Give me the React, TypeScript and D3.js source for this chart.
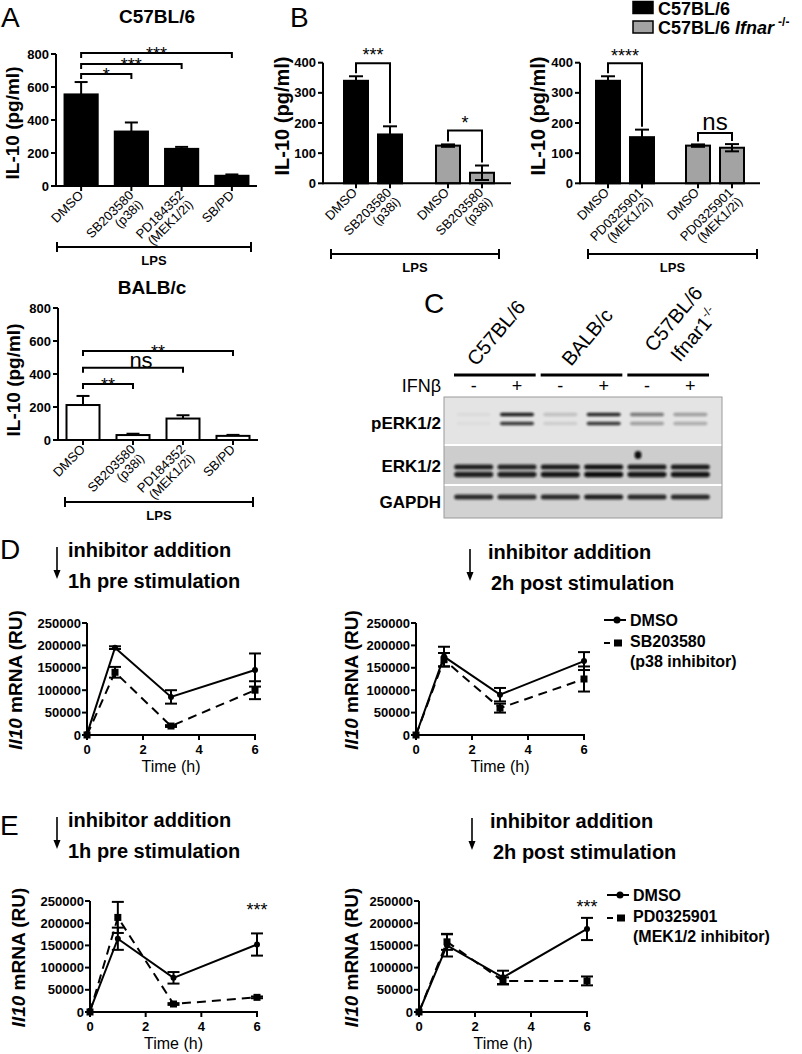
import React from "react";
import * as d3 from "d3";

const FONT = "'Liberation Sans', Arial, Helvetica, sans-serif";

// ---------- Panel A data ----------
const A_CATS = ["DMSO", "SB203580|(p38i)", "PD184352|(MEK1/2i)", "SB/PD"];
const A_C57_MEAN = [555, 330, 225, 62];
const A_C57_ERR = [75, 55, 12, 8];
const A_BALB_MEAN = [212, 30, 130, 25];
const A_BALB_ERR = [55, 8, 20, 6];
const A_TICKS = [0, 200, 400, 600, 800];
const A_C57_SIG: [number, number, number, string][] = [[0, 3, 806, "***"], [0, 2, 739, "***"], [0, 1, 679, "*"]];
const A_BALB_SIG: [number, number, number, string][] = [[0, 3, 539, "**"], [0, 2, 438, "ns"], [0, 1, 339, "**"]];

// ---------- Panel B data ----------
const B_SB_CATS = ["DMSO", "SB203580|(p38i)", "DMSO", "SB203580|(p38i)"];
const B_PD_CATS = ["DMSO", "PD0325901|(MEK1/2i)", "DMSO", "PD0325901|(MEK1/2i)"];
const B_GROUPS = [0, 0, 1, 1];
const B_SB_MEAN = [340, 162, 125, 35];
const B_SB_ERR = [15, 27, 4, 24];
const B_PD_MEAN = [340, 153, 125, 118];
const B_PD_ERR = [15, 25, 4, 12];
const B_TICKS = [0, 100, 200, 300, 400];
const B_SB_SIG: [number, number, number, string][] = [[0, 1, 398, "***"], [2, 3, 175, "*"]];
const B_PD_SIG: [number, number, number, string][] = [[0, 1, 398, "****"], [2, 3, 167, "ns"]];
const B_LEGEND = ["C57BL/6", "C57BL/6 Ifnar"];

// ---------- Panel C data ----------
const BLOT_LANES = ["-", "+", "-", "+", "-", "+"];
const BLOT_STRAINS = ["C57BL/6", "BALB/c", "C57BL/6|Ifnar1"];
const PERK_UP = [0.04, 0.92, 0.16, 0.88, 0.5, 0.32];
const PERK_LO = [0.03, 0.8, 0.1, 0.8, 0.32, 0.26];
const ERK_UP = [0.9, 0.88, 0.92, 0.97, 0.92, 0.92];
const ERK_LO = [0.9, 0.9, 0.95, 1, 0.95, 0.95];
const GAPDH = [0.85, 0.82, 0.85, 0.9, 0.85, 0.85];
const BLOT_ROWS = ["pERK1/2", "ERK1/2", "GAPDH"];

// ---------- Panels D/E data ----------
const TIME = [0, 1, 3, 6];
const TIME_TICKS = [0, 2, 4, 6];
const RU_TICKS = [0, 50000, 100000, 150000, 200000, 250000];
const D_PRE_DMSO = [2000, 195000, 85000, 145000];
const D_PRE_DMSO_ERR = [0, 3000, 15000, 37000];
const D_PRE_SB = [0, 140000, 20000, 100000];
const D_PRE_SB_ERR = [0, 12000, 2000, 20000];
const D_POST_DMSO = [0, 175000, 90000, 165000];
const D_POST_DMSO_ERR = [0, 22000, 15000, 20000];
const D_POST_SB = [0, 168000, 60000, 125000];
const D_POST_SB_ERR = [0, 15000, 10000, 28000];
const E_PRE_DMSO = [3000, 165000, 77000, 152000];
const E_PRE_DMSO_ERR = [0, 25000, 13000, 25000];
const E_PRE_PD = [0, 213000, 18000, 33000];
const E_PRE_PD_ERR = [0, 35000, 2000, 2000];
const E_POST_DMSO = [0, 150000, 78000, 187000];
const E_POST_DMSO_ERR = [0, 25000, 15000, 25000];
const E_POST_PD = [0, 158000, 70000, 70000];
const E_POST_PD_ERR = [0, 18000, 8000, 10000];

function XLabel({ cx, y0, label, dx, dy }: any) {
  const lines = label.split("|");
  return (
    <g transform={`translate(${cx + dx},${y0 + dy}) rotate(-45)`}>
      {lines.map((l: string, i: number) => (
        <text key={i} x={0} y={i * 13} textAnchor="end" fontSize={13}>{l}</text>
      ))}
    </g>
  );
}

function BarChart(p: any) {
  const y = d3.scaleLinear().domain([0, p.max]).range([p.yBot, p.yTop]);
  const n = p.means.length;
  let cx: (i: number) => number;
  let bw: number;
  if (!p.grouped) {
    const xb = d3.scaleBand<number>().domain(d3.range(n)).range([p.x0, p.x1]);
    cx = (i) => (xb(i) as number) + xb.bandwidth() / 2;
    bw = xb.bandwidth() * 0.66;
  } else {
    const outer = d3.scaleBand<number>().domain([0, 1]).range(p.groupRange);
    const inner = d3.scaleBand<number>().domain([0, 1]).range([-34, 34]);
    cx = (i) => (outer(B_GROUPS[i]) as number) + outer.bandwidth() / 2 + (inner(i % 2) as number) + inner.bandwidth() / 2;
    bw = 24;
  }
  const top = (i: number) => y(p.means[i] + p.errs[i]);
  return (
    <g>
      {p.means.map((m: number, i: number) => (
        <rect key={"b" + i} x={cx(i) - bw / 2} y={y(m)} width={bw} height={p.yBot - y(m)}
          fill={p.fills[i]} stroke="#000" strokeWidth={2} />
      ))}
      {p.means.map((m: number, i: number) => (
        <g key={"e" + i} stroke="#000" strokeWidth={2}>
          <line x1={cx(i)} x2={cx(i)} y1={p.errBoth ? y(m - p.errs[i]) : y(m)} y2={y(m + p.errs[i])} />
          <line x1={cx(i) - p.capW / 2} x2={cx(i) + p.capW / 2} y1={y(m + p.errs[i])} y2={y(m + p.errs[i])} />
          {p.errBoth && <line x1={cx(i) - p.capW / 2} x2={cx(i) + p.capW / 2} y1={y(m - p.errs[i])} y2={y(m - p.errs[i])} />}
        </g>
      ))}
      <line x1={p.x0} x2={p.x1} y1={p.yBot} y2={p.yBot} stroke="#000" strokeWidth={2} />
      <line x1={p.x0} x2={p.x0} y1={p.yBot + 1} y2={p.yTop} stroke="#000" strokeWidth={2} />
      {p.ticks.map((t: number) => (
        <g key={"t" + t}>
          <line x1={p.x0 - 5} x2={p.x0} y1={y(t)} y2={y(t)} stroke="#000" strokeWidth={2} />
          <text x={p.x0 - 7} y={y(t) + 4.5} textAnchor="end" fontSize={13} fontWeight="bold">{t}</text>
        </g>
      ))}
      {p.means.map((_: number, i: number) => (
        <line key={"xt" + i} x1={cx(i)} x2={cx(i)} y1={p.yBot} y2={p.yBot + 5} stroke="#000" strokeWidth={2} />
      ))}
      {p.cats.map((c: string, i: number) => (
        <XLabel key={"xl" + i} cx={cx(i)} y0={p.yBot} label={c} dx={p.lblDx} dy={p.lblDy} />
      ))}
      {p.sig.map((s: any, k: number) => {
        const [a, b, v, lab] = s;
        const ly = y(v);
        const la = p.sigToBar ? top(a) - 3 : ly + 5;
        const lb = p.sigToBar ? top(b) - 3 : ly + 5;
        const isNs = lab === "ns";
        const mid = (cx(a) + cx(b)) / 2 + (isNs ? p.nsDx : 0);
        return (
          <g key={"s" + k}>
            <path d={`M${cx(a)},${la}V${ly}H${cx(b)}V${lb}`} fill="none" stroke="#000" strokeWidth={2} />
            <text x={mid} y={ly + (isNs ? p.nsOff : p.starOff)} textAnchor="middle"
              fontSize={isNs ? p.nsSize : 18}>{lab}</text>
          </g>
        );
      })}
      <path d={`M${p.lps[0]},${p.lpsY - 5}V${p.lpsY + 5}M${p.lps[0]},${p.lpsY}H${p.lps[1]}M${p.lps[1]},${p.lpsY - 5}V${p.lpsY + 5}`}
        stroke="#000" strokeWidth={2} fill="none" />
      <text x={(p.lps[0] + p.lps[1]) / 2} y={p.lpsY + 18} textAnchor="middle" fontSize={13} fontWeight="bold">LPS</text>
      <text transform={`translate(${p.ylX},${p.ylY}) rotate(-90)`} textAnchor="middle" fontSize={p.ylSize} fontWeight="bold">IL-10 (pg/ml)</text>
    </g>
  );
}

function LineChart(p: any) {
  const x = d3.scaleLinear().domain([0, 6]).range([p.x0, p.x1]);
  const y = d3.scaleLinear().domain([0, 250000]).range([p.yBot, p.yTop]);
  const line = d3.line<number>().x((_, i) => x(TIME[i])).y((d) => y(d));
  return (
    <g>
      {p.series.map((s: any, k: number) => (
        <path key={"l" + k} d={line(s.values) as string} fill="none" stroke="#000" strokeWidth={2}
          strokeDasharray={s.dashed ? "9,6" : undefined} />
      ))}
      {p.series.map((s: any, k: number) => (
        <g key={"m" + k}>
          {s.values.map((v: number, i: number) => (
            <g key={i} stroke="#000" strokeWidth={2}>
              {s.errs[i] > 0 && (
                <>
                  <line x1={x(TIME[i])} x2={x(TIME[i])} y1={y(v - s.errs[i])} y2={y(v + s.errs[i])} />
                  <line x1={x(TIME[i]) - 6} x2={x(TIME[i]) + 6} y1={y(v + s.errs[i])} y2={y(v + s.errs[i])} />
                  <line x1={x(TIME[i]) - 6} x2={x(TIME[i]) + 6} y1={y(v - s.errs[i])} y2={y(v - s.errs[i])} />
                </>
              )}
              {s.marker === "circle" ? (
                <circle cx={x(TIME[i])} cy={y(v)} r={3} fill="#000" stroke="none" />
              ) : (
                <rect x={x(TIME[i]) - 3.5} y={y(v) - 3.5} width={7} height={7} fill="#000" stroke="none" />
              )}
            </g>
          ))}
        </g>
      ))}
      <line x1={p.x0} x2={p.x1 + 1} y1={p.yBot} y2={p.yBot} stroke="#000" strokeWidth={2} />
      <line x1={p.x0} x2={p.x0} y1={p.yBot + 1} y2={p.yTop} stroke="#000" strokeWidth={2} />
      {RU_TICKS.map((t) => (
        <g key={"yt" + t}>
          <line x1={p.x0 - 5} x2={p.x0} y1={y(t)} y2={y(t)} stroke="#000" strokeWidth={2} />
          <text x={p.x0 - 6} y={y(t) + 4.5} textAnchor="end" fontSize={13} fontWeight="bold">{t}</text>
        </g>
      ))}
      {TIME_TICKS.map((t) => (
        <g key={"xt" + t}>
          <line x1={x(t)} x2={x(t)} y1={p.yBot} y2={p.yBot + 5} stroke="#000" strokeWidth={2} />
          <text x={x(t)} y={p.yBot + 19} textAnchor="middle" fontSize={13} fontWeight="bold">{t}</text>
        </g>
      ))}
      <text x={(p.x0 + p.x1) / 2} y={p.yBot + 37} textAnchor="middle" fontSize={16}>Time (h)</text>
      <text transform={`translate(${p.ylX},${(p.yTop + p.yBot) / 2 + 1}) rotate(-90)`} textAnchor="middle" fontSize={19} fontWeight="bold">
        <tspan fontStyle="italic">Il10</tspan> mRNA (RU)
      </text>
      {p.star && (
        <text x={x(6)} y={p.star} textAnchor="middle" fontSize={18}>***</text>
      )}
    </g>
  );
}

function Header({ ax, y0, tx, text2dx, l2 }: any) {
  return (
    <g>
      <line x1={ax} x2={ax} y1={y0} y2={y0 + 28} stroke="#000" strokeWidth={1.6} />
      <path d={`M${ax - 3.5},${y0 + 23}L${ax},${y0 + 32}L${ax + 3.5},${y0 + 23}Z`} fill="#000" />
      <text x={tx} y={y0 + 10} fontSize={20} fontWeight="bold">inhibitor addition</text>
      <text x={tx + text2dx} y={y0 + 41} fontSize={20} fontWeight="bold">{l2}</text>
    </g>
  );
}

function Legend({ x, y, label2 }: any) {
  const [a, b] = label2;
  return (
    <g fontSize={16} fontWeight="bold">
      <line x1={x} x2={x + 22} y1={y} y2={y} stroke="#000" strokeWidth={2} />
      <circle cx={x + 13} cy={y} r={3.5} fill="#000" />
      <text x={x + 26} y={y + 6}>DMSO</text>
      <line x1={x} x2={x + 6} y1={y + 23} y2={y + 23} stroke="#000" strokeWidth={2} />
      <rect x={x + 10} y={y + 19.5} width={8} height={7} fill="#000" />
      <text x={x + 26} y={y + 27}>{a}</text>
      <text x={x + 26} y={y + 47}>{b}</text>
    </g>
  );
}

function Blot() {
  const lane = d3.scaleBand<number>().domain(d3.range(BLOT_LANES.length)).range([452, 712]);
  const lc = (i: number) => (lane(i) as number) + lane.bandwidth() / 2;
  const bx0 = 444, bx1 = 722;
  const rows = [
    { y0: 397, y1: 444, bg: "#e4e4e4" },
    { y0: 446, y1: 484, bg: "#cdcdcd" },
    { y0: 486, y1: 518, bg: "#d2d2d2" },
  ];
  const band = (key: string, i: number, cy: number, h: number, w: number, a: number) => (
    <rect key={key} x={lc(i) - w / 2} y={cy - h / 2} width={w} height={h} rx={h / 2}
      fill="#111" opacity={a} filter="url(#blur)" />
  );
  return (
    <g>
      <defs>
        <filter id="blur" x="-20%" y="-100%" width="140%" height="300%">
          <feGaussianBlur stdDeviation={1.1} />
        </filter>
      </defs>
      <text x={424} y={313} fontSize={28}>C</text>
      {BLOT_STRAINS.map((s, g) => {
        const gx0 = lane(g * 2) as number;
        const gx1 = (lane(g * 2 + 1) as number) + lane.bandwidth();
        const lines = s.split("|");
        const sx = (gx0 + gx1) / 2 - (lines.length > 1 ? 15 : g === 0 ? 19 : 11);
        const sy = lines.length > 1 ? 353 : 367;
        return (
          <g key={s + g}>
            <line x1={gx0 + 2} x2={gx1 - 3} y1={375} y2={375} stroke="#000" strokeWidth={3} />
            <text transform={`translate(${sx},${sy}) rotate(-50)`} fontSize={20}>{lines[0]}</text>
            {lines[1] && (
              <text transform={`translate(${sx + 26},${sy + 10}) rotate(-50)`} fontSize={20}>
                {lines[1]}<tspan dy={-8} fontSize={12}>-/-</tspan>
              </text>
            )}
          </g>
        );
      })}
      <text x={441} y={392} textAnchor="end" fontSize={18}>IFNβ</text>
      {BLOT_LANES.map((l, i) => (
        <text key={"s" + i} x={lc(i)} y={392} textAnchor="middle" fontSize={18}>{l}</text>
      ))}
      {rows.map((r, k) => (
        <rect key={"r" + k} x={bx0} y={r.y0} width={bx1 - bx0} height={r.y1 - r.y0} fill={r.bg} />
      ))}
      {BLOT_LANES.map((_, i) => band("pu" + i, i, 414.5, 3.5, 34, PERK_UP[i]))}
      {BLOT_LANES.map((_, i) => band("pl" + i, i, 423.5, 3.5, 34, PERK_LO[i]))}
      {BLOT_LANES.map((_, i) => band("eu" + i, i, 467, 5, 39, ERK_UP[i]))}
      {BLOT_LANES.map((_, i) => band("el" + i, i, 474.5, 5.5, 39, ERK_LO[i]))}
      {BLOT_LANES.map((_, i) => band("g" + i, i, 497, 5, 39, GAPDH[i]))}
      <ellipse cx={lc(4) - 9} cy={455} rx={3.5} ry={4} fill="#111" filter="url(#blur)" />
      <rect x={bx0} y={397} width={bx1 - bx0} height={121} fill="none" stroke="#9a9a9a" strokeWidth={1} />
      {BLOT_ROWS.map((r, k) => (
        <text key={r} x={441} y={[429, 472, 508][k]} textAnchor="end" fontSize={17} fontWeight="bold">{r}</text>
      ))}
    </g>
  );
}

export default function App() {
  return (
    <svg width={802} height={1054} viewBox="0 0 802 1054" style={{ position: "absolute", left: 0, top: 0, background: "#fff" }}
      fontFamily={FONT}>
      <rect width={802} height={1054} fill="#fff" />
      {/* Panel A */}
      <text x={1} y={27} fontSize={28}>A</text>
      <text x={157} y={23} textAnchor="middle" fontSize={19} fontWeight="bold">C57BL/6</text>
      <BarChart x0={56} x1={257} yTop={54} yBot={186} max={800} ticks={A_TICKS} cats={A_CATS}
        means={A_C57_MEAN} errs={A_C57_ERR} fills={["#000", "#000", "#000", "#000"]} capW={13}
        sig={A_C57_SIG} sigToBar={false} starOff={7} nsOff={0} nsSize={22} nsDx={8}
        lblDx={3} lblDy={10} lps={[57, 251]} lpsY={247} ylX={19} ylY={123} ylSize={19} />
      <text x={152} y={294} textAnchor="middle" fontSize={19} fontWeight="bold">BALB/c</text>
      <BarChart x0={58} x1={258} yTop={308} yBot={440} max={800} ticks={A_TICKS} cats={A_CATS}
        means={A_BALB_MEAN} errs={A_BALB_ERR} fills={["#fff", "#fff", "#fff", "#fff"]} capW={13}
        sig={A_BALB_SIG} sigToBar={false} starOff={7} nsOff={0} nsSize={22} nsDx={8}
        lblDx={3} lblDy={10} lps={[65, 253]} lpsY={502} ylX={20} ylY={380} ylSize={19} />

      {/* Panel B */}
      <text x={290} y={27} fontSize={28}>B</text>
      <BarChart x0={323} x1={511} grouped groupRange={[327, 511]} yTop={62.7} yBot={183.3} max={400}
        ticks={B_TICKS} cats={B_SB_CATS} means={B_SB_MEAN} errs={B_SB_ERR} errBoth
        fills={["#000", "#000", "#a3a3a3", "#a3a3a3"]} capW={14}
        sig={B_SB_SIG} sigToBar starOff={-2} nsOff={-3} nsSize={24} nsDx={0}
        lblDx={2} lblDy={10} lps={[331, 499]} lpsY={254} ylX={289} ylY={116} ylSize={20} />
      <BarChart x0={580} x1={760} grouped groupRange={[580, 760]} yTop={62.7} yBot={183.3} max={400}
        ticks={B_TICKS} cats={B_PD_CATS} means={B_PD_MEAN} errs={B_PD_ERR} errBoth
        fills={["#000", "#000", "#a3a3a3", "#a3a3a3"]} capW={14}
        sig={B_PD_SIG} sigToBar starOff={-1} nsOff={-3} nsSize={24} nsDx={0}
        lblDx={2} lblDy={10} lps={[588, 757]} lpsY={254} ylX={545} ylY={116} ylSize={20} />
      <g fontSize={18} fontWeight="bold">
        <rect x={633} y={1.5} width={20} height={12} fill="#000" stroke="#000" strokeWidth={1.5} />
        <text x={658} y={14.5}>{B_LEGEND[0]}</text>
        <rect x={633} y={21} width={20} height={12} fill="#a3a3a3" stroke="#000" strokeWidth={1.5} />
        <text x={658} y={34}>C57BL/6 <tspan fontStyle="italic">Ifnar</tspan><tspan dx={4} dy={-8} fontSize={12}>-/-</tspan></text>
      </g>

      {/* Panel C */}
      <Blot />

      {/* Panel D */}
      <text x={0} y={559} fontSize={28}>D</text>
      <Header ax={57} y0={547} tx={68} text2dx={0} l2="1h pre stimulation" />
      <Header ax={470} y0={549} tx={488} text2dx={3} l2="2h post stimulation" />
      <LineChart x0={87} x1={255} yTop={623} yBot={735} ylX={22}
        series={[
          { values: D_PRE_DMSO, errs: D_PRE_DMSO_ERR, dashed: false, marker: "circle" },
          { values: D_PRE_SB, errs: D_PRE_SB_ERR, dashed: true, marker: "square" },
        ]} />
      <LineChart x0={416} x1={584} yTop={623} yBot={735} ylX={358}
        series={[
          { values: D_POST_DMSO, errs: D_POST_DMSO_ERR, dashed: false, marker: "circle" },
          { values: D_POST_SB, errs: D_POST_SB_ERR, dashed: true, marker: "square" },
        ]} />
      <Legend x={604} y={620} label2={["SB203580", "(p38 inhibitor)"]} />

      {/* Panel E */}
      <text x={0} y={835} fontSize={28}>E</text>
      <Header ax={57} y0={817} tx={68} text2dx={0} l2="1h pre stimulation" />
      <Header ax={472} y0={818} tx={490} text2dx={3} l2="2h post stimulation" />
      <LineChart x0={90} x1={257} yTop={901} yBot={1012} ylX={25} star={916}
        series={[
          { values: E_PRE_DMSO, errs: E_PRE_DMSO_ERR, dashed: false, marker: "circle" },
          { values: E_PRE_PD, errs: E_PRE_PD_ERR, dashed: true, marker: "square" },
        ]} />
      <LineChart x0={419} x1={587} yTop={901} yBot={1012} ylX={358} star={913}
        series={[
          { values: E_POST_DMSO, errs: E_POST_DMSO_ERR, dashed: false, marker: "circle" },
          { values: E_POST_PD, errs: E_POST_PD_ERR, dashed: true, marker: "square" },
        ]} />
      <Legend x={607} y={895} label2={["PD0325901", "(MEK1/2 inhibitor)"]} />
    </svg>
  );
}
